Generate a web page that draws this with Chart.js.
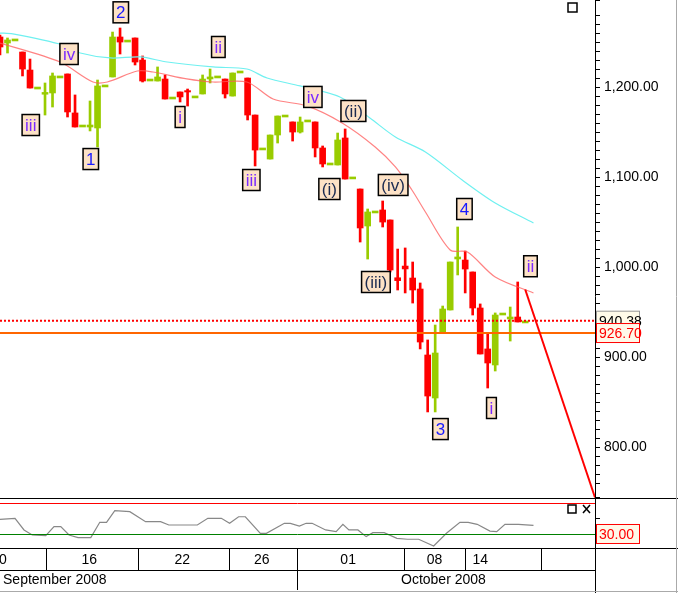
<!DOCTYPE html>
<html><head><meta charset="utf-8">
<script src="https://cdn.jsdelivr.net/npm/chart.js@4/dist/chart.umd.min.js"></script>
<style>html,body{margin:0;padding:0;background:#fff}#w{width:678px;height:593px;position:relative}</style>
</head><body><div id="w"><canvas id="c" width="678" height="593"></canvas></div>
<script>
// candles: open, high, low, close (bar index = position)
const opens  = [1255.6,1248.9,1252.3,1238.9,1218.9,1198.9,1192,1193.4,1211.2,1214.5,1171.2,1156.7,1155.6,1154.5,1201.2,1211.2,1255.6,1251.1,1254.5,1230,1207.8,1206.7,1208.9,1187.8,1194.5,1196,1189,1192.3,1209,1211.2,1208.9,1190,1216.7,1210,1168.9,1131.2,1120,1146.7,1167.8,1161.2,1150,1162.3,1161.2,1132.3,1114.5,1113.4,1143.4,1099,1086.7,1045.6,1061.2,1063.4,1052.3,987,1000,987.8,975.6,902.3,854.5,926.7,952.3,1009,1007.8,994.5,954.5,909,891.2,947.8,942.3,944.5,939];
const closes = [1244.5,1252.3,1252.3,1220,1198.9,1198.9,1194,1212.3,1211.2,1172.3,1155.6,1156.7,1157.8,1201.2,1201.2,1255.6,1250,1251.1,1227.8,1206.7,1207.8,1211.2,1186.7,1187.8,1189,1194.5,1189,1208.9,1211.2,1211.2,1192.3,1215.6,1216.7,1168.9,1130,1131.2,1146.7,1167.8,1167.8,1150,1161.2,1162.3,1132.3,1114.5,1114.5,1141.2,1097.8,1099,1043.4,1061.2,1061.2,1050,996.7,986,999,974.5,916.7,856.7,904.5,953.4,1005.6,1011.2,997.8,954.5,903.4,893.4,946.7,947.8,944.5,939,939];
const highs  = [1257.8,1254.5,1252.3,1238.9,1231.1,1198.9,1204.5,1215.6,1211.2,1214.5,1191.2,1156.7,1184.5,1207.8,1201.2,1261.1,1265.6,1251.1,1254.5,1234.5,1207.8,1222.3,1213.4,1187.8,1194.5,1197.8,1189,1213.4,1220,1211.2,1208.9,1215.6,1216.7,1210,1168.9,1131.2,1146.7,1167.8,1167.8,1161.2,1166.7,1162.3,1161.2,1134.5,1114.5,1148.9,1153.4,1099,1086.7,1064.5,1061.2,1073.4,1052.3,1020,1021.2,1005.6,982.3,919,935.6,956.7,1005.6,1044.5,1017.8,994.5,959,925.6,949,947.8,955.6,983.4,939];
const lows   = [1235.6,1237.8,1252.3,1212.3,1198.9,1198.9,1168.9,1177.8,1211.2,1166.7,1155.6,1156.7,1151.2,1133.4,1201.2,1211.2,1236.7,1251.1,1224.5,1205.6,1207.8,1206.7,1186.7,1187.8,1183.4,1178.9,1189,1192.3,1204.5,1211.2,1187.8,1190,1216.7,1163.4,1112.3,1131.2,1120,1137.8,1167.8,1140,1148.9,1162.3,1122.3,1111.2,1114.5,1113.4,1097.8,1099,1027.8,1008.9,1061.2,1044.5,994.5,974.5,971.2,960,909,839,839,926.7,952.3,991.2,971.2,946.7,903.4,865.6,884.5,947.8,917.8,939,939];
// moving averages (bar index, value)
const maSlowX = [0,1.7,8.4,10.7,14.7,18.7,22.3,28.4,32.9,35.6,40,45.3,49.3,52.7,56.7,61.6,66,71.1];
const maSlowV = [1260,1259,1246.7,1237.8,1232.3,1233.4,1227.8,1222.3,1220,1210,1201.2,1189,1165.6,1144.5,1127.8,1096.7,1071.2,1049];
const maFastX = [0,8,12.4,14.3,18.3,20.4,24.9,28.4,32.9,36.4,40.9,45.6,50,52.7,54.9,56.7,60,62.3,66,71.1];
const maFastV = [1248.9,1227.8,1205.6,1205.6,1217.8,1216.7,1209,1205.6,1205.6,1186.7,1179,1160,1133.4,1111.2,1085.6,1061.2,1019,1016.7,989,971.2];
// oscillator
const oscX = [0,2,3.2,4.3,6.1,7.2,8.1,9.2,10.4,12.1,13.3,14.2,15.3,17.3,19.4,21.4,22.5,26.3,27.7,29.5,30.6,31.8,32.7,34.7,35.5,37.9,38.7,39.9,40.8,41.6,43.4,44.8,45.7,46.5,47.7,48.8,49.7,51.2,52.9,54.3,55.8,57.8,59.5,61.3,62.4,63.6,65.3,66.2,67.3,69.1,71.1];
const oscV = [49,50.2,35.2,28.7,27.8,39.5,39.5,28.7,25.3,25.3,45.1,45.1,60.1,58.8,45.9,45.9,41.6,41.6,50.2,50.2,43.8,52.3,52.3,30.9,30.9,43.8,43.8,40.3,43.8,43.8,35.2,33,42.5,35.2,35.2,26.6,31.7,31.7,24.4,23.2,23.2,14.5,30.9,45.1,45.1,42.5,33.8,33,42.5,42.5,41.2];
// wave labels
const waveText = ["2","iv","ii","iii","1","i","iv","(ii)","iii","(i)","(iv)","(iii)","4","ii","3","i"];
const waveX = [16.1,9.2,29.1,4.1,12.1,24,41.7,47.1,33.5,43.9,52.4,50.1,61.9,70.7,58.7,65.5];
const waveV = [1283,1236.7,1244.5,1157.8,1120,1166.7,1189,1173.4,1096.7,1086.7,1091.2,983.4,1064.5,1000.9,820,843.4];
// levels & projection
const lastPrice = 940.38, support = 926.70, oscLevel = 30, oscHigh = 70;
const projX = [70, 79.3], projV = [975, 744];
const dateText = ["0","16","22","26","01","08","14"];
const dateX = [0.4,11.9,24.3,34.9,46.4,57.9,64];
const dateSep = [6.1,18.4,30.5,39.6,53.9,62,72.1];
const monthText = ["September 2008","October 2008"];
const monthX = [7.3,59.1];
const monthSep = [39.6];

const up = i => closes[i] >= opens[i];
const RED = '#ff0000', GRN = '#99cc00';
const idx = opens.map((_, i) => i);
const wick = idx.map(i => ({x:i, y:[lows[i], highs[i]]}));
const body = idx.map(i => {
  const a = opens[i], b = closes[i];
  return Math.abs(a-b) < 1.5 ? {x:i, y:[Math.min(a,b)-1.1, Math.max(a,b)+1.1]} : {x:i, y:[a,b]};
});
const colors = idx.map(i => up(i) ? GRN : RED);
const zip = (xs, vs) => xs.map((x,i)=>({x, y:vs[i]}));

const overlay = {
  id:'overlay',
  afterDatasetsDraw(ch){
    const c = ch.ctx, xs = ch.scales.x, y = ch.scales.y, y2 = ch.scales.y2, A = ch.chartArea;
    c.save();
    c.strokeStyle = RED; c.lineWidth = 2; c.setLineDash([2,2]);
    c.beginPath(); c.moveTo(A.left, y.getPixelForValue(lastPrice)); c.lineTo(A.right, y.getPixelForValue(lastPrice)); c.stroke();
    c.setLineDash([]);
    c.strokeStyle = '#ff6600'; c.lineWidth = 2;
    c.beginPath(); c.moveTo(A.left, y.getPixelForValue(support)); c.lineTo(A.right, y.getPixelForValue(support)); c.stroke();
    c.strokeStyle = RED; c.lineWidth = 2;
    c.beginPath(); c.moveTo(xs.getPixelForValue(projX[0]), y.getPixelForValue(projV[0])); c.lineTo(xs.getPixelForValue(projX[1]), y.getPixelForValue(projV[1])); c.stroke();
    c.lineWidth = 1;
    c.strokeStyle = RED; c.beginPath(); c.moveTo(A.left, Math.round(y2.getPixelForValue(oscHigh))+.5); c.lineTo(A.right, Math.round(y2.getPixelForValue(oscHigh))+.5); c.stroke();
    c.strokeStyle = '#008000'; c.beginPath(); c.moveTo(A.left, Math.round(y2.getPixelForValue(oscLevel))+.5); c.lineTo(A.right, Math.round(y2.getPixelForValue(oscLevel))+.5); c.stroke();
    c.strokeStyle = '#000';
    const sep = Math.round(y.bottom)+.5;
    c.beginPath(); c.moveTo(0, sep); c.lineTo(678, sep); c.stroke();
    c.beginPath(); c.moveTo(0, A.bottom+.5); c.lineTo(678, A.bottom+.5); c.stroke();
    c.beginPath(); c.moveTo(A.right+.5, 0); c.lineTo(A.right+.5, 593); c.stroke();
    c.font = '17px "Liberation Sans", Arial'; c.textAlign='center'; c.textBaseline='middle';
    waveText.forEach((t,i)=>{
      const px = xs.getPixelForValue(waveX[i]), py = y.getPixelForValue(waveV[i]);
      const w = c.measureText(t).width + 6, h = 21;
      c.fillStyle = '#fde2c6'; c.fillRect(px-w/2, py-h/2, w, h);
      c.strokeStyle = '#000'; c.lineWidth = 1.5; c.strokeRect(px-w/2, py-h/2, w, h);
      c.fillStyle = /^\d$/.test(t) ? '#1a1aff' : (t[0]==='(' ? '#1a2a50' : '#7a2aff');
      c.fillText(t, px, py+1);
    });
    c.font = '14px "Liberation Sans", Arial'; c.textAlign='left';
    const box = (val, sc, txt, col, border, fill) => {
      const py = sc.getPixelForValue(val);
      c.fillStyle = fill; c.fillRect(A.right+1, py-10, 44, 20);
      if (border){ c.strokeStyle = border; c.lineWidth = 1; c.strokeRect(A.right+1.5, py-9.5, 43, 19); }
      c.fillStyle = col; c.fillText(txt, A.right+4, py+1);
    };
    box(lastPrice, y, lastPrice.toFixed(2), '#000', '#999', '#fffbe8');
    box(support, y, support.toFixed(2), RED, RED, '#fff8e8');
    box(oscLevel, y2, oscLevel.toFixed(2), RED, RED, '#fff8e8');
    c.strokeStyle='#000'; c.lineWidth=1.5;
    c.strokeRect(568,3,9,9); c.strokeRect(568,505,8,8);
    c.beginPath(); c.moveTo(583,505); c.lineTo(590,513); c.moveTo(590,505); c.lineTo(583,513); c.stroke();
    c.lineWidth=1; c.strokeStyle='#000';
    const r1 = A.bottom, r2 = A.bottom+22, r3 = 593-3;
    c.beginPath(); c.moveTo(0, r2+.5); c.lineTo(A.right, r2+.5); c.stroke();
    c.font = '14px "Liberation Sans", Arial'; c.textAlign='center'; c.fillStyle='#000';
    dateSep.forEach(d=>{ const px = Math.round(xs.getPixelForValue(d))+.5; c.beginPath(); c.moveTo(px,r1); c.lineTo(px,r2); c.stroke(); });
    dateText.forEach((t,i)=> c.fillText(t, xs.getPixelForValue(dateX[i]), r1+12));
    monthSep.forEach(d=>{ const px = Math.round(xs.getPixelForValue(d))+.5; c.beginPath(); c.moveTo(px,r2); c.lineTo(px,r3); c.stroke(); });
    monthText.forEach((t,i)=> c.fillText(t, xs.getPixelForValue(monthX[i]), r2+10));
    c.strokeStyle='#aaa'; c.beginPath(); c.moveTo(0,591.5); c.lineTo(678,591.5); c.moveTo(676.5,0); c.lineTo(676.5,593); c.stroke();
    c.restore();
  }
};

new Chart(document.getElementById('c'), {
  data:{ datasets:[
    {type:'line', data:zip(maSlowX, maSlowV), borderColor:'#6ff0f0', borderWidth:1.2, pointRadius:0, tension:0.3, yAxisID:'y'},
    {type:'line', data:zip(maFastX, maFastV), borderColor:'rgba(255,90,90,0.75)', borderWidth:1.2, pointRadius:0, tension:0.3, yAxisID:'y'},
    {type:'bar', data:wick, backgroundColor:colors, barThickness:2, grouped:false, yAxisID:'y'},
    {type:'bar', data:body, backgroundColor:colors, barThickness:6, grouped:false, yAxisID:'y'},
    {type:'line', data:zip(oscX, oscV), borderColor:'#888', borderWidth:1.2, pointRadius:0, yAxisID:'y2'}
  ]},
  options:{
    responsive:false, animation:false, devicePixelRatio:1,
    layout:{padding:{left:0, right:0, top:0, bottom:45}},
    plugins:{legend:{display:false}, tooltip:{enabled:false}},
    scales:{
      x:{type:'linear', min:0, max:79.3, display:false, offset:false, grid:{offset:false}},
      y:{position:'right', stack:'p', stackWeight:498, min:743.4, max:1296.7,
         grid:{drawOnChartArea:false, tickLength:5, color:'#000'}, border:{display:false},
         ticks:{stepSize:10, autoSkip:false, color:'#000', font:{family:'"Liberation Sans", Arial', size:14}, padding:4,
                callback:v => v % 100 === 0 ? v.toLocaleString('en-US',{minimumFractionDigits:2}) : ''},
         afterFit:s=>{s.width=83; s.paddingTop=0; s.paddingBottom=0;}},
      y2:{position:'right', stack:'p', stackWeight:50, min:11.9, max:76.5,
         grid:{drawOnChartArea:false, tickLength:5, color:'#000'}, border:{display:false},
         ticks:{stepSize:10, callback:()=>'', color:'#000'}, afterFit:s=>{s.width=83; s.paddingTop=0; s.paddingBottom=0;}}
    }
  },
  plugins:[overlay]
});
</script></body></html>
